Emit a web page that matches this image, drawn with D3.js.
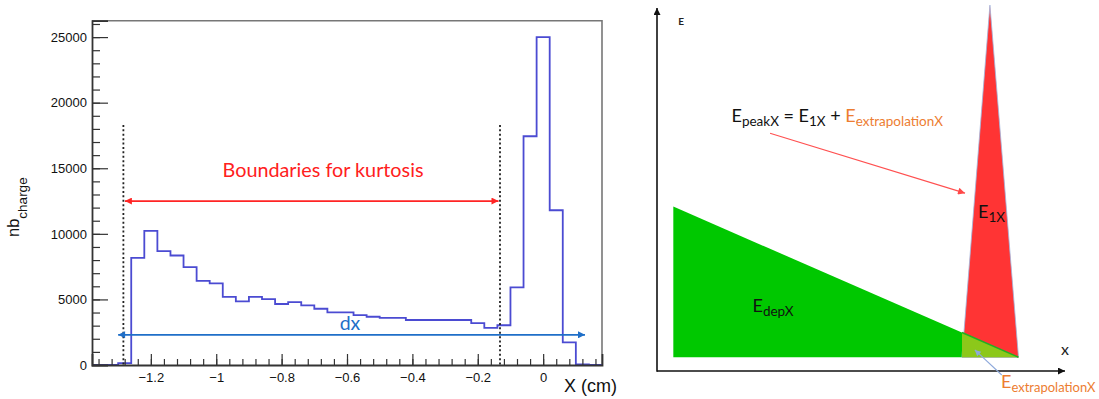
<!DOCTYPE html>
<html>
<head>
<meta charset="utf-8">
<script src="https://cdn.jsdelivr.net/npm/d3@7"></script>
<style>
  body { margin: 0; background: #fff; }
  svg { display: block; }
  text { white-space: pre; }
</style>
</head>
<body>
<svg id="fig" width="1099" height="399"></svg>
<script>
// ---- Left panel: charge histogram along X ----
const binStart = -1.38;   // cm, lower edge of first bin
const binWidth = 0.04;    // cm
const counts = [
  0, 0, 150, 8170, 10230, 8680, 8350, 7460, 6420, 6220,
  5200, 4850, 5200, 5030, 4650, 4800, 4550, 4290, 4010, 4010,
  3810, 3680, 3600, 3600, 3430, 3430, 3430, 3430, 3430, 3200,
  2830, 3030, 5920, 17440, 25000, 11800, 1730, 50, 0
];
const xTicks = [-1.2, -1, -0.8, -0.6, -0.4, -0.2, 0];
const yTicks = [0, 5000, 10000, 15000, 20000, 25000];
const kurtosisBounds = [-1.284, -0.132];  // dashed boundary lines
const boundTop = 18300;
const kurtosisArrowY = 12500;
const dxRange = [-1.30, 0.128];
const dxArrowY = 2300;

// ---- Right panel: schematic energy deposition (arbitrary 0..100 units) ----
const depPoly = [[4.0, 45.3], [4.0, 3.8], [88.6, 3.8]];            // E_depX
const peakPoly = [[81.6, 100.8], [74.75, 3.8], [88.6, 3.8]];        // E_1X
const extrapPoly = [[74.75, 10.6], [74.75, 3.8], [88.6, 3.8]];      // E_extrapolationX
const peakArrow = [[27.7, 65.5], [75.5, 49.0]];
const extrapArrow = [[84.5, -1.1], [77.9, 5.8]];

const svg = d3.select("#fig");
const defs = svg.append("defs");
function marker(id, color, w, h) {
  defs.append("marker")
    .attr("id", id).attr("viewBox", "0 0 10 10")
    .attr("refX", 10).attr("refY", 5)
    .attr("markerUnits", "userSpaceOnUse")
    .attr("markerWidth", w).attr("markerHeight", h)
    .attr("orient", "auto-start-reverse")
    .append("path").attr("d", "M0,0 L10,5 L0,10 z").attr("fill", color);
}
marker("ahRed", "#ff2424", 9, 7);
marker("ahBlue", "#1f6fc8", 9, 7);
marker("ahBlack", "#111", 8, 7);
marker("ahPink", "#ff4848", 9, 7);
marker("ahSteel", "#8ea9db", 8, 6);

// ===== Left panel =====
const x = d3.scaleLinear([binStart, binStart + counts.length * binWidth], [92, 602]);
const y = d3.scaleLinear([0, 26250], [365, 20.7]);
const L = svg.append("g");

// frame (top / right)
L.append("path")
  .attr("d", `M${x.range()[0]},${y.range()[1]} H${x.range()[1]} V${y.range()[0]}`)
  .attr("fill", "none").attr("stroke", "#777").attr("stroke-width", 1.6);

// histogram outline
const stepPts = counts.map((c, i) => [binStart + i * binWidth, c]);
stepPts.push([binStart + counts.length * binWidth, counts[counts.length - 1]]);
L.append("path")
  .datum(stepPts)
  .attr("d", d3.line().x(d => x(d[0])).y(d => y(d[1])).curve(d3.curveStepAfter))
  .attr("fill", "none").attr("stroke", "#4b4bd2").attr("stroke-width", 1.8);

// axes
const tickFont = g => g.selectAll("text")
  .attr("font-family", "Liberation Sans, Arial, sans-serif")
  .attr("font-size", 13).attr("fill", "#111");

const xMinor = d3.range(-34, 5).map(i => +(i * 0.04).toFixed(2));
L.append("g").attr("transform", `translate(0,${y(0)})`)
  .call(d3.axisBottom(x).tickValues(xMinor).tickSize(-6).tickFormat(""))
  .call(g => g.select(".domain").remove())
  .call(g => g.selectAll("line").attr("stroke", "#333").attr("stroke-width", 1.2));
L.append("g").attr("transform", `translate(0,${y(0)})`)
  .call(d3.axisBottom(x).tickValues(xTicks).tickSize(-11).tickPadding(8)
    .tickFormat(d3.format("")))
  .call(g => g.select(".domain").attr("stroke", "#333").attr("stroke-width", 1.8))
  .call(g => g.selectAll("line").attr("stroke", "#333").attr("stroke-width", 1.2))
  .call(tickFont);

const yMinor = d3.range(0, 26001, 1000);
L.append("g").attr("transform", `translate(${x.range()[0]},0)`)
  .call(d3.axisLeft(y).tickValues(yMinor).tickSize(-8).tickFormat(""))
  .call(g => g.select(".domain").remove())
  .call(g => g.selectAll("line").attr("stroke", "#333").attr("stroke-width", 1.2));
L.append("g").attr("transform", `translate(${x.range()[0]},0)`)
  .call(d3.axisLeft(y).tickValues(yTicks).tickSize(-16).tickPadding(5)
    .tickFormat(d3.format("d")))
  .call(g => g.select(".domain").attr("stroke", "#333").attr("stroke-width", 1.8))
  .call(g => g.selectAll("line").attr("stroke", "#333").attr("stroke-width", 1.2))
  .call(tickFont);

// axis titles
L.append("text")
  .attr("x", 617).attr("y", 392).attr("text-anchor", "end")
  .attr("font-family", "Liberation Sans, Arial, sans-serif").attr("font-size", 18)
  .attr("fill", "#111").text("X (cm)");
const yl = L.append("text")
  .attr("transform", "translate(18.5,237) rotate(-90)")
  .attr("font-family", "Liberation Sans, Arial, sans-serif").attr("fill", "#111");
yl.append("tspan").attr("font-size", 16.5).text("nb");
yl.append("tspan").attr("font-size", 13.5).attr("dy", 8).text("charge");

// kurtosis boundaries
kurtosisBounds.forEach(b => {
  L.append("line")
    .attr("x1", x(b)).attr("x2", x(b)).attr("y1", y(boundTop)).attr("y2", y(0))
    .attr("stroke", "#222").attr("stroke-width", 1.8).attr("stroke-dasharray", "2,2.4");
});
L.append("line")
  .attr("x1", x(kurtosisBounds[0]) + 1.5).attr("x2", x(kurtosisBounds[1]) - 1.5)
  .attr("y1", y(kurtosisArrowY)).attr("y2", y(kurtosisArrowY))
  .attr("stroke", "#ff2424").attr("stroke-width", 1.8)
  .attr("marker-start", "url(#ahRed)").attr("marker-end", "url(#ahRed)");
L.append("text")
  .attr("x", 323).attr("y", 177).attr("text-anchor", "middle")
  .attr("font-family", "Lato, 'Open Sans', sans-serif").attr("font-size", 19.8)
  .attr("fill", "#ff2020").text("Boundaries for kurtosis");

// dx span
L.append("line")
  .attr("x1", x(dxRange[0])).attr("x2", x(dxRange[1]))
  .attr("y1", y(dxArrowY)).attr("y2", y(dxArrowY))
  .attr("stroke", "#1f6fc8").attr("stroke-width", 1.8)
  .attr("marker-start", "url(#ahBlue)").attr("marker-end", "url(#ahBlue)");
L.append("text")
  .attr("x", 350).attr("y", 329.5).attr("text-anchor", "middle")
  .attr("font-family", "Lato, 'Open Sans', sans-serif").attr("font-size", 19.5)
  .attr("fill", "#1f6fc8").text("dx");

// ===== Right panel =====
const xs = d3.scaleLinear([0, 100], [657, 1065]);
const ys = d3.scaleLinear([0, 100], [371, 8]);
const R = svg.append("g");
const poly = pts => "M" + pts.map(p => `${xs(p[0])},${ys(p[1])}`).join("L") + "Z";

R.append("path").attr("d", poly(depPoly)).attr("fill", "#00c800");
R.append("path").attr("d", poly(peakPoly)).attr("fill", "#ff3434")
  .attr("stroke", "#9fb4dc").attr("stroke-width", 0.8);
R.append("path").attr("d", poly(extrapPoly)).attr("fill", "#8cc81a");
R.append("line")
  .attr("x1", xs(extrapPoly[0][0])).attr("y1", ys(extrapPoly[0][1]))
  .attr("x2", xs(extrapPoly[2][0])).attr("y2", ys(extrapPoly[2][1]))
  .attr("stroke", "#22b022").attr("stroke-width", 1.5);

// axes with arrowheads
R.append("line").attr("x1", xs(0)).attr("y1", ys(-0.2)).attr("x2", xs(0)).attr("y2", ys(100))
  .attr("stroke", "#111").attr("stroke-width", 1.6).attr("marker-end", "url(#ahBlack)");
R.append("line").attr("x1", xs(0)).attr("y1", ys(0)).attr("x2", xs(100)).attr("y2", ys(0))
  .attr("stroke", "#111").attr("stroke-width", 1.6).attr("marker-end", "url(#ahBlack)");
R.append("text").attr("x", xs(5.2)).attr("y", 25)
  .attr("font-family", "Lato, sans-serif").attr("font-size", 10).attr("font-weight", 700)
  .attr("fill", "#222").text("E");
R.append("text").attr("x", xs(99)).attr("y", 355)
  .attr("font-family", "Lato, sans-serif").attr("font-size", 16)
  .attr("fill", "#222").text("x");

// annotation arrows
R.append("line")
  .attr("x1", xs(peakArrow[0][0])).attr("y1", ys(peakArrow[0][1]))
  .attr("x2", xs(peakArrow[1][0])).attr("y2", ys(peakArrow[1][1]))
  .attr("stroke", "#ff5050").attr("stroke-width", 1.1).attr("marker-end", "url(#ahPink)");
R.append("line")
  .attr("x1", xs(extrapArrow[0][0])).attr("y1", ys(extrapArrow[0][1]))
  .attr("x2", xs(extrapArrow[1][0])).attr("y2", ys(extrapArrow[1][1]))
  .attr("stroke", "#8ea9db").attr("stroke-width", 1.1).attr("marker-end", "url(#ahSteel)");

// labels with subscripts
const ORANGE = "#ed7d31";
function richLabel(px, py, parts, size, subSize, subDy) {
  const t = R.append("text").attr("x", px).attr("y", py)
    .attr("font-family", "Lato, 'Open Sans', sans-serif").attr("fill", "#111");
  let inSub = false;
  parts.forEach(p => {
    const s = t.append("tspan").text(p.t)
      .attr("font-size", p.sub ? subSize : size)
      .attr("fill", p.color || "#111");
    if (p.sub && !inSub) s.attr("dy", subDy);
    if (!p.sub && inSub) s.attr("dy", -subDy);
    inSub = !!p.sub;
  });
}
richLabel(731.5, 122, [
  { t: "E" }, { t: "peakX", sub: true }, { t: " = E" }, { t: "1X", sub: true },
  { t: " + " }, { t: "E", color: ORANGE }, { t: "extrapolationX", sub: true, color: ORANGE }
], 18, 13.5, 4);
richLabel(978, 218, [{ t: "E" }, { t: "1X", sub: true }], 18, 13.5, 4);
richLabel(752.5, 312, [{ t: "E" }, { t: "depX", sub: true }], 18, 13.5, 4);
richLabel(1001, 388, [
  { t: "E", color: ORANGE }, { t: "extrapolationX", sub: true, color: ORANGE }
], 18, 13, 4);
</script>
</body>
</html>
